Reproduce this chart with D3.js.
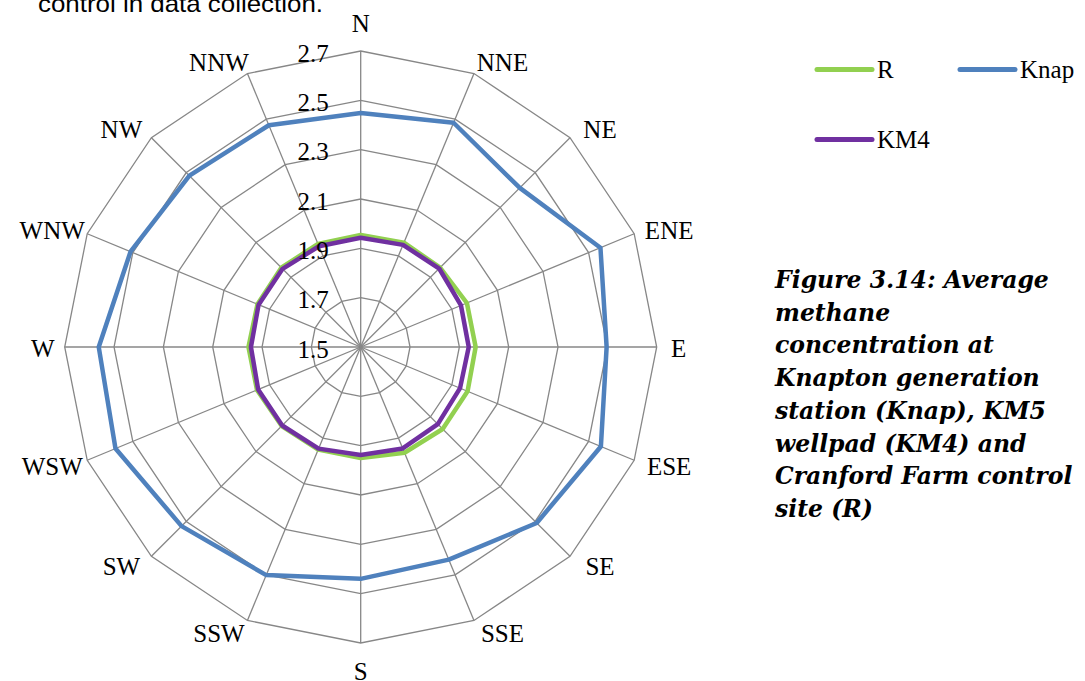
<!DOCTYPE html>
<html>
<head>
<meta charset="utf-8">
<script src="https://cdn.jsdelivr.net/npm/d3@7"></script>
<style>
  html, body { margin: 0; padding: 0; background: #fff; }
  svg { display: block; }
</style>
</head>
<body>
<svg id="chart" width="1085" height="681"></svg>
<script>
// ---------------- data ----------------
const directions = ["N","NNE","NE","ENE","E","ESE","SE","SSE","S","SSW","SW","WSW","W","WNW","NW","NNW"];
const seriesNames = ["R", "Knap", "KM4"];
const valuesR    = [1.954,1.958,1.955,1.966,1.966,1.969,1.970,1.964,1.950,1.950,1.953,1.955,1.955,1.953,1.955,1.952];
const valuesKnap = [2.449,2.484,2.412,2.552,2.497,2.554,2.509,2.433,2.440,2.501,2.527,2.576,2.562,2.510,2.482,2.473];
const valuesKM4  = [1.943,1.948,1.950,1.940,1.938,1.936,1.942,1.945,1.938,1.946,1.950,1.950,1.945,1.948,1.948,1.942];
const tickValues = [1.5, 1.7, 1.9, 2.1, 2.3, 2.5, 2.7];
const tickLabels = ["1.5", "1.7", "1.9", "2.1", "2.3", "2.5", "2.7"];
const captionLines = [
  "Figure 3.14: Average",
  "methane",
  "concentration at",
  "Knapton generation",
  "station (Knap), KM5",
  "wellpad (KM4) and",
  "Cranford Farm control",
  "site (R)"
];
const topText = "control in data collection.";

// ---------------- layout ----------------
const svg = d3.select("#chart");
const cx = 360.7, cy = 347, R = 296;
const serif = "'Liberation Serif', 'DejaVu Serif', serif";
const gridColor = "#878787";
const colors = { R: "#92D050", Knap: "#4F81BD", KM4: "#7030A0" };
const seriesData = { R: valuesR, Knap: valuesKnap, KM4: valuesKM4 };

const rScale = d3.scaleLinear().domain([tickValues[0], tickValues[tickValues.length - 1]]).range([0, R]);
const angle = d3.scaleLinear().domain([0, directions.length]).range([0, 2 * Math.PI]);

const g = svg.append("g").attr("transform", `translate(${cx},${cy})`);

// top clipped paragraph text
svg.append("text")
  .attr("x", 38).attr("y", 12)
  .attr("font-family", "'Liberation Sans', 'Open Sans', sans-serif")
  .attr("font-size", 24)
  .attr("textLength", 285)
  .attr("lengthAdjust", "spacingAndGlyphs")
  .attr("fill", "#000")
  .text(topText);

// grid rings
const ringLine = d3.lineRadial()
  .angle((d, i) => angle(i))
  .radius(d => rScale(d))
  .curve(d3.curveLinearClosed);

g.append("g").selectAll("path")
  .data(tickValues.slice(1))
  .join("path")
  .attr("d", v => ringLine(directions.map(() => v)))
  .attr("fill", "none")
  .attr("stroke", gridColor)
  .attr("stroke-width", 1.3);

// spokes
g.append("g").selectAll("line")
  .data(directions)
  .join("line")
  .attr("x1", 0).attr("y1", 0)
  .attr("x2", (d, i) => rScale.range()[1] * Math.sin(angle(i)))
  .attr("y2", (d, i) => -rScale.range()[1] * Math.cos(angle(i)))
  .attr("stroke", gridColor)
  .attr("stroke-width", 1.3);

// series
const seriesLine = d3.lineRadial()
  .angle((d, i) => angle(i))
  .radius(d => rScale(d))
  .curve(d3.curveLinearClosed);

g.append("g").selectAll("path")
  .data(seriesNames)
  .join("path")
  .attr("d", s => seriesLine(seriesData[s]))
  .attr("fill", "none")
  .attr("stroke", s => colors[s])
  .attr("stroke-width", 4.5)
  .attr("stroke-linejoin", "round");

// tick labels (left of N axis)
g.append("g").selectAll("text")
  .data(tickValues)
  .join("text")
  .attr("x", -32)
  .attr("y", v => -rScale(v) + 2)
  .attr("dy", "0.35em")
  .attr("text-anchor", "end")
  .attr("font-family", serif)
  .attr("font-size", 25)
  .attr("fill", "#000")
  .text((v, i) => tickLabels[i]);

// direction labels: centred at an offset from the outer ring vertex
g.append("g").selectAll("text")
  .data(directions)
  .join("text")
  .each(function(d, i) {
    const a = angle(i);
    const s = Math.sin(a), c = Math.cos(a);
    const vx = R * s, vy = -R * c;
    const as = Math.abs(s);
    let hx = 0;
    if (as > 0.99) hx = 22;
    else if (as > 0.9) hx = 35;
    else if (as > 0.6) hx = 30;
    else if (as > 0.3) hx = 28.5;
    const x = vx + Math.sign(s) * (as > 0.01 ? hx : 0);
    const vOff = Math.abs(c) > 0.99 ? 28 * Math.sign(c) : c * 13 - 1;
    d3.select(this)
      .attr("x", x)
      .attr("y", vy - vOff)
      .attr("dy", "0.35em")
      .attr("text-anchor", "middle");
  })
  .attr("font-family", serif)
  .attr("font-size", 25)
  .attr("fill", "#000")
  .text(d => d);

// legend
const legendItems = [
  { name: seriesNames[0], x: 817, y: 69.5 },
  { name: seriesNames[1], x: 960, y: 69.5 },
  { name: seriesNames[2], x: 817, y: 139.5 }
];
const lg = svg.append("g").selectAll("g").data(legendItems).join("g");
lg.append("line")
  .attr("x1", d => d.x).attr("x2", d => d.x + 55)
  .attr("y1", d => d.y).attr("y2", d => d.y)
  .attr("stroke", d => colors[d.name])
  .attr("stroke-width", 5)
  .attr("stroke-linecap", "round");
lg.append("text")
  .attr("x", d => d.x + 60)
  .attr("y", d => d.y)
  .attr("dy", "0.35em")
  .attr("font-family", serif)
  .attr("font-size", 25)
  .attr("fill", "#000")
  .text(d => d.name);

// caption
const cap = svg.append("g");
const capText = cap.selectAll("text")
  .data(captionLines)
  .join("text")
  .attr("x", 775)
  .attr("y", (d, i) => 288 + i * 32.7)
  .attr("font-family", "'DejaVu Serif', 'Liberation Serif', serif")
  .attr("font-weight", "bold")
  .attr("font-style", "italic")
  .attr("font-size", 22)
  .attr("fill", "#000")
  .text(d => d);
// fit first line width to ~274px
const w0 = capText.node().getComputedTextLength();
const fs = Math.max(18, Math.min(26, 22 * 274 / w0));
capText.attr("font-size", fs);
</script>
</body>
</html>
